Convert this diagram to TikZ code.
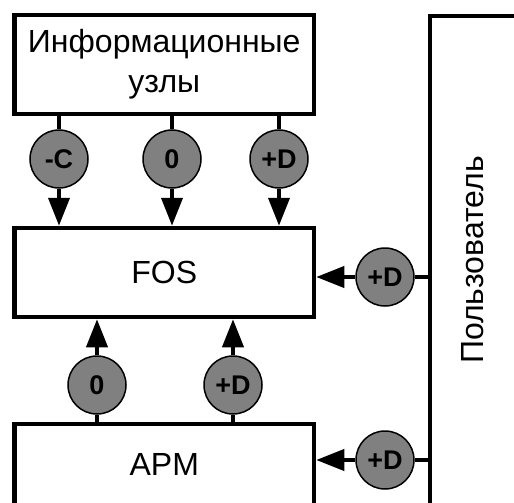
\documentclass[tikz,border=0pt]{standalone}
\usepackage{fontspec}
\setmainfont{Liberation Sans}
\usetikzlibrary{arrows.meta}
\definecolor{sigfill}{RGB}{128,128,128}
\begin{document}
\begin{tikzpicture}[x=1pt,y=-1pt,
  box/.style={draw, line width=4.5pt, minimum width=299.5pt, inner sep=0pt,
    font=\fontsize{32}{40}\selectfont, align=center},
  boxtext/.style={inner sep=0pt, font=\fontsize{32}{40}\selectfont},
  sig/.style={circle, draw, line width=1.5pt, fill=sigfill, minimum size=58pt,
    inner sep=0pt, font=\fontsize{27}{30}\selectfont\bfseries},
  conn/.style={line width=4pt},
  arr/.style={conn, -{Triangle[length=28pt,width=21pt]}}
]
\useasboundingbox (0,0) rectangle (514,503);
\clip (0,0) rectangle (514,503);
\node[box, minimum height=99pt] (info) at (164.25,64.5) {Информационные\\узлы};
\node[box, minimum height=89pt] (fos) at (164.25,272.5) {FOS};
\node[box, minimum height=200pt] (apm) at (164.25,524) {};
\node[boxtext] (apmtxt) at (164.25,464) {APM};
\node[box, minimum width=300pt, minimum height=600pt] (user) at (580,316) {};
\node[boxtext, rotate=90] (usertxt) at (473,260) {Пользователь};

\node[sig] (c1) at (59,159) {-C};
\node[sig] (c2) at (172,159) {0};
\node[sig] (c3) at (279,159) {+D};
\node[sig] (c4) at (97,385) {0};
\node[sig] (c5) at (233,385) {+D};
\node[sig] (c6) at (385,277) {+D};
\node[sig] (c7) at (385,460) {+D};

\foreach \c in {c1,c2,c3} {
  \draw[conn] (info.south -| \c.north) -- (\c.north);
  \draw[arr] (\c.south) -- (\c.south |- fos.north);
}
\foreach \c in {c4,c5} {
  \draw[conn] (apm.north -| \c.south) -- (\c.south);
  \draw[arr] (\c.north) -- (\c.north |- fos.south);
}
\draw[conn] (user.west |- c6.east) -- (c6.east);
\draw[arr] (c6.west) -- (c6.west -| fos.east);
\draw[conn] (user.west |- c7.east) -- (c7.east);
\draw[arr] (c7.west) -- (c7.west -| apm.east);
\end{tikzpicture}
\end{document}
